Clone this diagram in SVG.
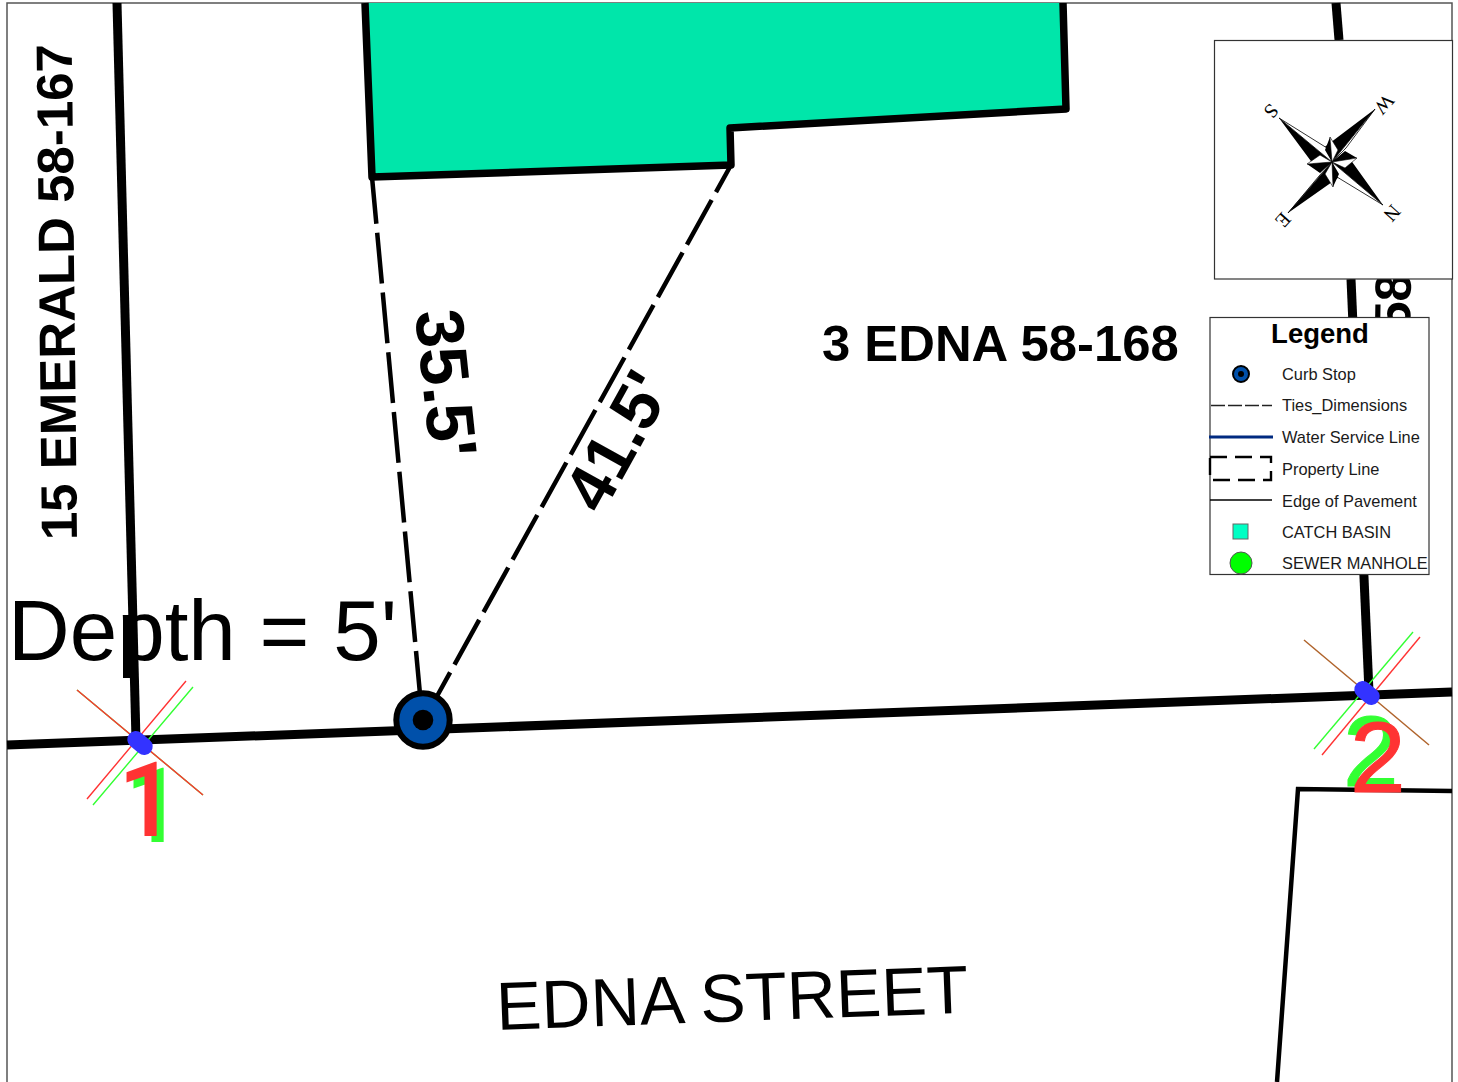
<svg xmlns="http://www.w3.org/2000/svg" width="1458" height="1082" viewBox="0 0 1458 1082">
<style>
text{font-family:"Liberation Sans",Arial,sans-serif;fill:#000}
.b{font-weight:700}
.lg{font-size:16.4px;fill:#1a1a1a}
.cp{font-family:"Liberation Serif",serif;font-size:20px}
.road{fill:none;stroke:#000;stroke-width:9}
.prop{fill:#00e6aa;stroke:#000;stroke-width:7.5;stroke-linejoin:round}
.tie{fill:none;stroke:#000;stroke-width:4.5;stroke-dasharray:51 9}
.ed{fill:none;stroke:#000;stroke-width:4.5}
.thinr{stroke:#ff3333;stroke-width:1.4;fill:none}
.thing{stroke:#33ff33;stroke-width:1.4;fill:none}
.num{font-size:100px;stroke-width:1}
.one{font-family:Roboto,"Liberation Sans",sans-serif;font-size:103px;font-weight:500}
</style>
<rect width="1458" height="1082" fill="#fff"/>
<path d="M7 1082V3H1452V1082" fill="none" stroke="#555" stroke-width="1.5"/>
<g id="parcel"><path class="prop" d="M365 3L372 177L731 165L730 128L1066 109L1063 3"/></g>
<g id="connectors">
<path class="road" d="M117 3L136 740"/>
<path class="road" d="M1336 3L1339 40"/>
<path class="road" d="M1351 279L1369 692"/>
<path class="road" d="M7 745L1452 692"/>
<path class="ed" d="M1277 1082L1298 789L1452 791"/>
<path class="tie" stroke-dashoffset="4" d="M372 177L420 694"/>
<path class="tie" stroke-dashoffset="20" d="M731 165L436 698"/>
</g>
<g id="curb-stop"><circle cx="423" cy="720" r="26.700" fill="#0050aa" stroke="#000" stroke-width="6"/><circle cx="423" cy="720" r="10.300" fill="#000"/></g>
<g id="marker-1">
<path class="thing" d="M77 690L203 795M193 687L93 805"/>
<path class="thinr" d="M77 690L203 795M186 681L87 799" stroke-width="1"/>
<rect x="126" y="734.500" width="28" height="17" rx="8.500" transform="rotate(40 140 743)" fill="#3333ff"/>
<text x="125" y="842" class="one" style="fill:#33ff33">1</text>
<text x="118" y="836" class="one" style="fill:#ff3333">1</text>
</g>
<g id="marker-2">
<path class="thinr" d="M1420 637L1322 755"/>
<path class="thing" d="M1413 632L1314 749"/>
<path d="M1304 640L1429 745" stroke="#b0642c" stroke-width="1.500" fill="none"/>
<rect x="1353" y="684.500" width="28" height="17" rx="8.500" transform="rotate(40 1367 693)" fill="#3333ff"/>
<text x="1343" y="786" class="num" style="fill:#33ff33;stroke:#33ff33">2</text>
<text x="1350" y="792" class="num" style="fill:#ff3333;stroke:#ff3333">2</text>
</g>
<g id="labels">
<text class="b" font-size="51" transform="translate(77 540) rotate(-90.6)">15 EMERALD 58-167</text>
<text class="b" font-size="51" transform="translate(1410 330) rotate(-89)">58</text>
<text class="b" font-size="50.800" x="822" y="361">3 EDNA 58-168</text>
<text class="b" font-size="68" transform="translate(415 312) rotate(84)">35.5'</text>
<text class="b" font-size="67" transform="translate(602 516) rotate(-61)">41.5'</text>
<text font-size="85.400" x="8" y="660">Depth = 5'</text>
<text font-size="68" transform="translate(497 1030) rotate(-2.1)">EDNA STREET</text>
</g>
<g id="compass">
<rect x="1214.500" y="40.500" width="238" height="238.500" fill="#fff" stroke="#333" stroke-width="1.200"/>
<path d="M1279 118L1332 162L1319 172Z M1375 109L1332 162L1322 149Z M1383 205L1332 162L1345 152Z M1288 213L1332 162L1342 175Z" fill="#000"/>
<path d="M1279 118L1332 162L1327 148Z M1375 109L1332 162L1346 148Z M1383 205L1332 162L1337 177Z M1288 213L1332 162L1319 176Z" fill="#fff" stroke="#000" stroke-width=".8"/>
<path d="M1330 137L1332 162L1325 150Z M1357 158L1332 162L1345 151Z M1333 187L1332 162L1339 174Z M1307 164L1332 162L1320 173Z" fill="#000"/>
<path d="M1330 137L1332 162L1338 150Z M1357 158L1332 162L1345 168Z M1333 187L1332 162L1325 174Z M1307 164L1332 162L1320 155Z" fill="#fff" stroke="#000" stroke-width=".6"/>
<text class="cp" transform="translate(1271 111) rotate(132)" text-anchor="middle" dy="6.500">S</text>
<text class="cp" transform="translate(1384 104) rotate(132)" text-anchor="middle" dy="6.500">W</text>
<text class="cp" transform="translate(1392 213) rotate(132)" text-anchor="middle" dy="6.500">N</text>
<text class="cp" transform="translate(1283 220) rotate(132)" text-anchor="middle" dy="6.500">E</text>
</g>
<g id="legend">
<rect x="1210" y="317.500" width="219" height="257" fill="#fff" stroke="#333" stroke-width="1.200"/>
<text class="b" font-size="27.500" x="1320" y="343" text-anchor="middle">Legend</text>
<circle cx="1241" cy="374" r="8" fill="#0050aa" stroke="#000" stroke-width="2"/><circle cx="1241" cy="374" r="3" fill="#000"/>
<path d="M1211 405.500H1272" stroke="#222" stroke-width="1.300" stroke-dasharray="14 3" fill="none"/>
<path d="M1209 437H1273" stroke="#002a80" stroke-width="3" fill="none"/>
<rect x="1210" y="457" width="61" height="23" fill="none" stroke="#000" stroke-width="2.400" stroke-dasharray="17 8"/>
<path d="M1210 500H1272" stroke="#000" stroke-width="1.300" fill="none"/>
<rect x="1233" y="524" width="15" height="15" fill="#00ffc4" stroke="#666"/>
<circle cx="1241" cy="563" r="11" fill="#00ff00" stroke="#555"/>
<text class="lg" x="1282" y="380">Curb Stop</text>
<text class="lg" x="1282" y="411">Ties_Dimensions</text>
<text class="lg" x="1282" y="443">Water Service Line</text>
<text class="lg" x="1282" y="475">Property Line</text>
<text class="lg" x="1282" y="507">Edge of Pavement</text>
<text class="lg" x="1282" y="538">CATCH BASIN</text>
<text class="lg" x="1282" y="569">SEWER MANHOLE</text>
</g>
</svg>
